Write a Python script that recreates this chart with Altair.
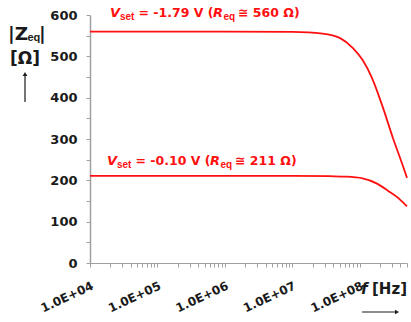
import altair as alt
import pandas as pd

# Impedance magnitude |Zeq| versus frequency for two set voltages
freq_high = [1e4, 1e5, 1e6, 1e7, 2.8e7, 5.1e7, 7.9e7, 1.1e8, 1.5e8, 2.2e8, 3.1e8, 4.2e8, 5.0e8]
zeq_high = [560, 560, 560, 559, 555, 544, 520, 491, 449, 376, 302, 242, 206]

freq_low = [1e4, 1e5, 1e6, 1e7, 3.6e7, 6.3e7, 1.1e8, 1.8e8, 2.6e8, 3.9e8, 5.0e8]
zeq_low = [211, 211, 211, 211, 210, 209, 205, 192, 175, 154, 137]

vset_labels = ["-1.79", "-0.10"]
req_values = [560, 211]

x_ticks = [k * 10 ** n for n in range(4, 9) for k in range(1, 10) if k * 10 ** n <= 5e8]
y_ticks = list(range(0, 601, 50))

FONT = "DejaVu Sans"
SUB_FONT = "Liberation Sans"
INK = "#1a1a1a"
RED = "#ff1010"
AXIS_GREY = "#a0a0a0"

curves = pd.concat([
    pd.DataFrame({"freq": freq_high, "zeq": zeq_high, "series": "high"}),
    pd.DataFrame({"freq": freq_low, "zeq": zeq_low, "series": "low"}),
])

x_scale = alt.Scale(type="log", domain=[1e4, 5e8], nice=False)
y_scale = alt.Scale(domain=[0, 600], nice=False)

decade_label = (
    "abs(log(datum.value) / LN10 - round(log(datum.value) / LN10)) < 0.001"
    " ? '1.0E+0' + round(log(datum.value) / LN10) : ''"
)

x_axis = alt.Axis(
    values=x_ticks, labelExpr=decade_label, labelAngle=-25,
    labelAlign="right", labelBaseline="top", labelPadding=13,
    labelFlush=False, labelOverlap=False, tickSize=4, grid=False,
    title=None, labelFont=FONT, labelFontWeight="bold", labelFontSize=12,
    labelColor=INK, domainColor=AXIS_GREY, tickColor=AXIS_GREY,
)
y_axis = alt.Axis(
    values=y_ticks, labelExpr="datum.value % 100 == 0 ? datum.label : ''",
    tickSize=4, labelPadding=9, grid=False, title=None,
    labelFont=FONT, labelFontWeight="bold", labelFontSize=13,
    labelColor=INK, domainColor=AXIS_GREY, tickColor=AXIS_GREY,
    domainWidth=1.5, labelOverlap=False,
)

lines = alt.Chart(curves).mark_line(
    color=RED, strokeWidth=1.8, interpolate="monotone"
).encode(
    x=alt.X("freq:Q", scale=x_scale, axis=x_axis),
    y=alt.Y("zeq:Q", scale=y_scale, axis=y_axis),
    detail="series:N",
)

# Annotation pieces: (text expression, x offset, y offset, size, italic, font)
pieces = [
    ("'V'", 0, 0, 13, True, FONT),
    ("'set'", 10, 3, 10, False, SUB_FONT),
    ("'= ' + datum.vset + ' V ('", 28.5, 0, 12.5, False, FONT),
    ("'R'", 103, 0, 13, True, FONT),
    ("'eq'", 113.5, 3, 10, False, SUB_FONT),
    ("'\u2245 ' + datum.req + ' \u03a9)'", 128, 0, 12.5, False, FONT),
]
# pixel offset of each annotation from its curve's low-frequency level
anchor_offsets = [(20, -14.5), (17, -10.5)]

ann_layers = []
for i, (dx0, dy0) in enumerate(anchor_offsets):
    row = pd.DataFrame({
        "freq": [x_ticks[0]], "zeq": [req_values[i]],
        "vset": [vset_labels[i]], "req": [str(req_values[i])],
    })
    for expr, ox, oy, size, italic, font in pieces:
        ann_layers.append(
            alt.Chart(row).transform_calculate(piece=expr).mark_text(
                align="left", baseline="alphabetic", font=font, fontWeight="bold",
                fontStyle="italic" if italic else "normal", fontSize=size,
                color=RED, dx=dx0 + ox, dy=dy0 + oy,
            ).encode(
                x=alt.X("freq:Q", scale=x_scale, axis=x_axis),
                y=alt.Y("zeq:Q", scale=y_scale, axis=y_axis),
                text="piece:N",
            )
        )

one_row = pd.DataFrame({"k": [0]})


def caption(text, x, y, size, italic=False, font=FONT):
    return alt.Chart(one_row).mark_text(
        text=text, align="left", baseline="alphabetic", font=font,
        fontWeight="bold", fontStyle="italic" if italic else "normal",
        fontSize=size, color=INK,
    ).encode(x=alt.value(x), y=alt.value(y))


def arrow_shaft(x, y, x2, y2):
    return alt.Chart(one_row).mark_rule(color=INK, strokeWidth=1.2).encode(
        x=alt.value(x), y=alt.value(y), x2=alt.value(x2), y2=alt.value(y2)
    )


def arrow_head(x, y, shape):
    return alt.Chart(one_row).mark_point(
        shape=shape, filled=True, color=INK, size=22, opacity=1
    ).encode(x=alt.value(x), y=alt.value(y))


titles = [
    caption("|Z", -82, 25, 18.5),
    caption("eq", -62.5, 26, 11, font=SUB_FONT),
    caption("|", -51, 25, 18.5),
    caption("[\u03a9]", -80, 48.5, 17),
    arrow_shaft(-65, 60, -65, 87),
    arrow_head(-65, 59, "triangle-up"),
    caption("f", 271, 279, 15, italic=True),
    caption("[Hz]", 282, 279, 15),
    arrow_shaft(272, 297, 306, 297),
    arrow_head(307, 297, "triangle-right"),
]

chart = alt.layer(lines, *ann_layers, *titles).properties(
    width=317, height=248,
    padding={"left": 90, "top": 15, "right": 4, "bottom": 59},
    autosize="none",
).configure_view(stroke="transparent")

chart.save("out.html", embed_options={"renderer": "svg", "actions": False})
